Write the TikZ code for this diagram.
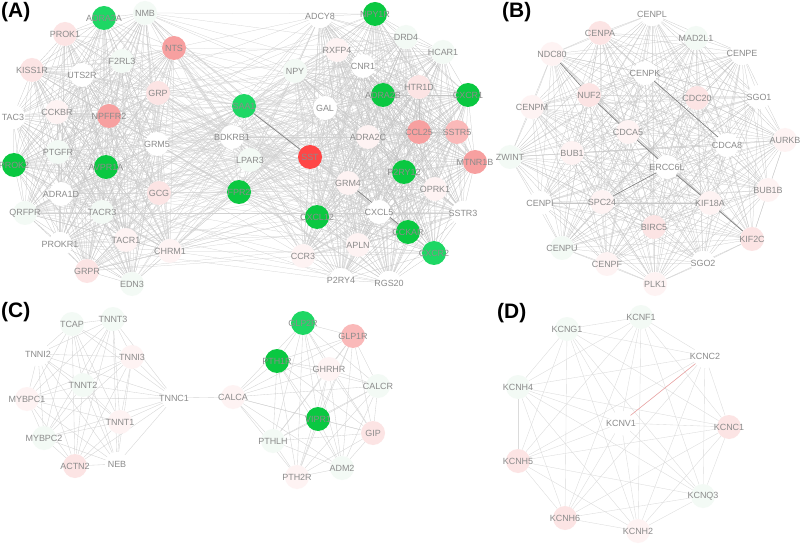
\documentclass[tikz,border=0pt]{standalone}
\usepackage{fontspec}
\setmainfont{Liberation Sans}
\pgfdeclarelayer{edges}
\pgfsetlayers{edges,main}
\definecolor{gA}{RGB}{30,215,100}
\definecolor{gB}{RGB}{10,200,65}
\definecolor{rd}{RGB}{255,70,70}
\definecolor{sal}{RGB}{247,160,160}
\definecolor{salL}{RGB}{250,185,185}
\definecolor{pkL}{RGB}{252,228,228}
\definecolor{pkF}{RGB}{254,243,243}
\definecolor{grF}{RGB}{243,250,245}
\definecolor{labgray}{RGB}{140,140,140}
\definecolor{redge}{RGB}{240,160,160}
\tikzset{
  gnode/.style={circle,minimum size=24bp,inner sep=0pt,text=labgray,font=\fontsize{9}{10}\selectfont},
  edgeA/.style={draw=black!23,line width=0.25bp},
  edgeX/.style={draw=black!18,line width=0.25bp},
  edgeB/.style={draw=black!22,line width=0.25bp},
  edgeC/.style={draw=black!17,line width=0.35bp},
  edgeD/.style={draw=black!14,line width=0.35bp},
  edgeDark/.style={draw=black!50,line width=0.6bp},
  plabel/.style={font=\bfseries\fontsize{21}{24}\selectfont,anchor=north west,inner sep=0pt}
}
\newcommand\gn[4]{\node[gnode,fill=#4] (#1) at (#2,#3) {\makebox[0pt]{#1}};}
\newcommand\allpairs[2]{\foreach \a [count=\i] in #2 {\foreach \b [count=\j] in #2 {\ifnum\j>\i \draw[#1] (\a) -- (\b);\fi}}}
\def\Aleft{ADRA2A,NMB,PROK1,NTS,F2RL3,KISS1R,UTS2R,GRP,TAC3,CCKBR,NPFFR2,GRM5,PTGFR,PROK2,AVPR1A,ADRA1D,GCG,QRFPR,TACR3,PROKR1,TACR1,GRPR,EDN3,CHRM1}
\def\Acenter{SAA1,BDKRB1,LPAR3,FPR2}
\def\Aright{ADCY8,NPY,GAL,SST,NPY1R,DRD4,RXFP4,HCAR1,CNR1,ADRA2B,HTR1D,CXCR1,ADRA2C,CCL25,SSTR5,MTNR1B,GRM4,P2RY12,OPRK1,CXCL5,SSTR3,CXCL12,CCKAR,CXCR2,APLN,P2RY4,RGS20,CCR3}
\def\Blist{CENPL,CENPA,MAD2L1,NDC80,CENPE,CENPK,NUF2,CDC20,SGO1,CENPM,CDCA5,AURKB,CDCA8,ZWINT,BUB1,ERCC6L,BUB1B,CENPI,SPC24,KIF18A,BIRC5,KIF2C,CENPU,CENPF,SGO2,PLK1}
\def\Cleft{TCAP,TNNT3,TNNI2,TNNI3,TNNT2,MYBPC1,TNNC1,TNNT1,MYBPC2,ACTN2,NEB}
\def\Cright{GLP2R,GLP1R,PTH1R,GHRHR,CALCR,CALCA,VIPR1,GIP,PTHLH,ADM2,PTH2R}
\def\Dlist{KCNF1,KCNG1,KCNC2,KCNH4,KCNV1,KCNC1,KCNH5,KCNQ3,KCNH6,KCNH2}
\begin{document}
\begin{tikzpicture}[x=1bp,y=-1bp]
\useasboundingbox (0,0) rectangle (800,544);
% ---------- Panel A ----------
\gn{ADRA2A}{104}{18}{gA}
\gn{NMB}{145}{13}{grF}
\gn{PROK1}{65}{34}{pkL}
\gn{NTS}{174}{48}{sal}
\gn{F2RL3}{122}{61}{grF}
\gn{KISS1R}{32}{70}{pkL}
\gn{UTS2R}{82}{75}{white}
\gn{GRP}{158}{93}{pkL}
\gn{TAC3}{13}{117}{white}
\gn{CCKBR}{57}{112}{pkF}
\gn{NPFFR2}{109}{116}{sal}
\gn{GRM5}{157}{144}{white}
\gn{PTGFR}{58}{152}{grF}
\gn{PROK2}{14}{165}{gB}
\gn{AVPR1A}{106}{167}{gB}
\gn{ADRA1D}{61}{194}{white}
\gn{GCG}{159}{193}{pkL}
\gn{QRFPR}{25}{213}{grF}
\gn{TACR3}{102}{212}{grF}
\gn{PROKR1}{60}{244}{white}
\gn{TACR1}{126}{240}{pkF}
\gn{GRPR}{87}{271}{pkL}
\gn{EDN3}{132}{284}{grF}
\gn{CHRM1}{170}{251}{pkF}
\gn{SAA1}{244}{106}{gA}
\gn{BDKRB1}{232}{137}{white}
\gn{LPAR3}{250}{160}{grF}
\gn{FPR2}{239}{192}{gB}
\gn{ADCY8}{320}{16}{white}
\gn{NPY}{295}{71}{grF}
\gn{GAL}{325}{108}{white}
\gn{SST}{310}{157}{rd}
\gn{NPY1R}{375}{14}{gB}
\gn{DRD4}{406}{37}{grF}
\gn{RXFP4}{337}{50}{pkF}
\gn{HCAR1}{443}{52}{grF}
\gn{CNR1}{363}{66}{white}
\gn{ADRA2B}{383}{95}{gB}
\gn{HTR1D}{419}{87}{pkL}
\gn{CXCR1}{468}{95}{gB}
\gn{ADRA2C}{368}{137}{pkF}
\gn{CCL25}{419}{132}{sal}
\gn{SSTR5}{457}{132}{salL}
\gn{MTNR1B}{475}{162}{sal}
\gn{GRM4}{348}{183}{pkF}
\gn{P2RY12}{404}{172}{gB}
\gn{OPRK1}{435}{189}{pkF}
\gn{CXCL5}{379}{212}{white}
\gn{SSTR3}{463}{213}{white}
\gn{CXCL12}{317}{217}{gB}
\gn{CCKAR}{408}{232}{gB}
\gn{CXCR2}{434}{253}{gA}
\gn{APLN}{358}{245}{pkF}
\gn{P2RY4}{341}{280}{white}
\gn{RGS20}{389}{283}{white}
\gn{CCR3}{303}{256}{pkF}
% ---------- Panel B ----------
\begin{scope}[every node/.append style={minimum size=27bp}]
\gn{CENPL}{652}{14}{white}
\gn{CENPA}{600}{33}{pkL}
\gn{MAD2L1}{696}{38}{grF}
\gn{NDC80}{552}{54}{pkF}
\gn{CENPE}{742}{53}{white}
\gn{CENPK}{645}{73}{white}
\gn{NUF2}{589}{95}{pkL}
\gn{CDC20}{697}{98}{pkL}
\gn{SGO1}{759}{97}{white}
\gn{CENPM}{532}{107}{pkF}
\gn{CDCA5}{628}{132}{pkF}
\gn{AURKB}{785}{140}{pkF}
\gn{CDCA8}{727}{145}{white}
\gn{ZWINT}{510}{157}{grF}
\gn{BUB1}{572}{153}{pkF}
\gn{ERCC6L}{667}{167}{white}
\gn{BUB1B}{768}{190}{pkF}
\gn{CENPI}{540}{203}{white}
\gn{SPC24}{602}{202}{pkF}
\gn{KIF18A}{710}{203}{pkF}
\gn{BIRC5}{654}{227}{pkL}
\gn{KIF2C}{752}{239}{pkL}
\gn{CENPU}{562}{248}{grF}
\gn{CENPF}{607}{264}{pkF}
\gn{SGO2}{703}{263}{white}
\gn{PLK1}{655}{284}{pkF}
\end{scope}
% ---------- Panel C ----------
\begin{scope}[every node/.append style={minimum size=26bp}]
\gn{TCAP}{72}{324}{grF}
\gn{TNNT3}{113}{319}{grF}
\gn{TNNI2}{38}{354}{white}
\gn{TNNI3}{132}{357}{pkF}
\gn{TNNT2}{83}{385}{grF}
\gn{MYBPC1}{27}{399}{pkF}
\gn{TNNC1}{174}{398}{white}
\gn{TNNT1}{120}{422}{pkF}
\gn{MYBPC2}{44}{438}{grF}
\gn{ACTN2}{75}{466}{pkL}
\gn{NEB}{117}{464}{white}
\gn{GLP2R}{303}{323}{gA}
\gn{GLP1R}{353}{336}{salL}
\gn{PTH1R}{277}{361}{gB}
\gn{GHRHR}{329}{369}{pkF}
\gn{CALCR}{378}{386}{grF}
\gn{CALCA}{233}{397}{pkF}
\gn{VIPR1}{318}{419}{gB}
\gn{GIP}{373}{433}{pkL}
\gn{PTHLH}{273}{441}{grF}
\gn{ADM2}{342}{468}{grF}
\gn{PTH2R}{297}{477}{pkF}
\end{scope}
% ---------- Panel D ----------
\begin{scope}[every node/.append style={minimum size=25bp}]
\gn{KCNF1}{641}{317}{grF}
\gn{KCNG1}{567}{329}{grF}
\gn{KCNC2}{705}{356}{white}
\gn{KCNH4}{518}{387}{grF}
\gn{KCNV1}{621}{423}{white}
\gn{KCNC1}{729}{427}{pkL}
\gn{KCNH5}{518}{461}{pkL}
\gn{KCNQ3}{703}{496}{grF}
\gn{KCNH6}{565}{518}{pkL}
\gn{KCNH2}{638}{531}{pkF}
\end{scope}
% panel labels
\node[plabel] (labA) at (1,2) {(A)};
\node[plabel] (labB) at (502,2) {(B)};
\node[plabel] (labC) at (1,302) {(C)};
\node[plabel] (labD) at (497,303) {(D)};
% ---------- Edges ----------
\begin{pgfonlayer}{edges}
\fill[white] (0,0) rectangle (800,544);
\allpairs{edgeA}{\Aleft}
\allpairs{edgeA}{\Aright}
\allpairs{edgeA}{\Acenter}
\foreach \a in \Acenter {\foreach \b in \Aleft {\draw[edgeX] (\a) -- (\b);}}
\foreach \a in \Acenter {\foreach \b in \Aright {\draw[edgeX] (\a) -- (\b);}}
\foreach \a [count=\i] in \Aleft {\foreach \b [count=\j] in \Aright {%
  \pgfmathtruncatemacro\mm{mod(\i+2*\j,6)}\ifnum\mm=0 \draw[edgeX] (\a) -- (\b);\fi}}
\draw[edgeDark] (SAA1) -- (SST);
\draw[edgeDark] (GRM4) -- (CCKAR);
\allpairs{edgeB}{\Blist}
\draw[edgeDark] (NDC80) -- (NUF2);
\draw[edgeDark] (NUF2) -- (CDCA5);
\draw[edgeDark] (CENPK) -- (CDCA8);
\draw[edgeDark] (CDCA5) -- (ERCC6L);
\draw[edgeDark] (ERCC6L) -- (KIF18A);
\draw[edgeDark] (KIF18A) -- (KIF2C);
\draw[edgeDark] (SPC24) -- (ERCC6L);
\allpairs{edgeC}{\Cleft}
\allpairs{edgeC}{\Cright}
\draw[edgeC] (TNNC1) -- (CALCA);
\allpairs{edgeD}{\Dlist}
\draw[draw=redge,line width=0.5bp] (KCNC2) -- (KCNV1);
\end{pgfonlayer}
\end{tikzpicture}
\end{document}
